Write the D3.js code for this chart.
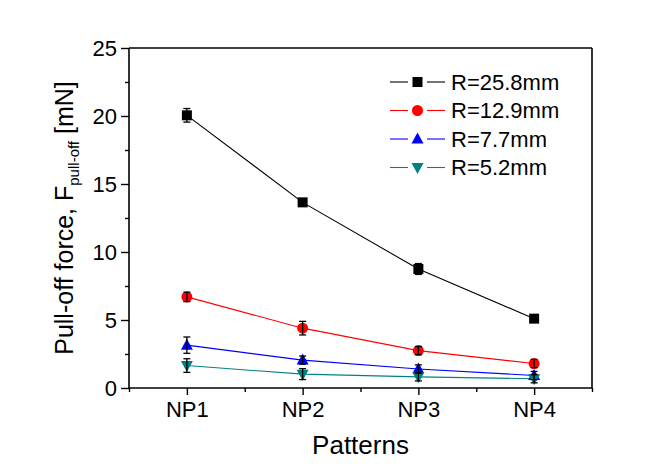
<!DOCTYPE html>
<html><head><meta charset="utf-8">
<script src="https://cdn.jsdelivr.net/npm/d3@7"></script>
<style>body{margin:0;background:#fff}svg{display:block;font-family:"Liberation Sans",Arial,sans-serif}</style>
</head><body>
<svg id="c" width="658" height="474"></svg>
<script>
const categories = ["NP1","NP2","NP3","NP4"];
const seriesNames = ["R=25.8mm","R=12.9mm","R=7.7mm","R=5.2mm"];
const valuesR258 = [20.05, 13.65, 8.75, 5.1];
const errorsR258 = [0.5, 0.25, 0.4, 0.2];
const valuesR129 = [6.7, 4.4, 2.75, 1.8];
const errorsR129 = [0.35, 0.5, 0.3, 0.3];
const valuesR77 = [3.15, 2.05, 1.4, 0.92];
const errorsR77 = [0.6, 0.3, 0.3, 0.3];
const valuesR52 = [1.65, 1.02, 0.82, 0.68];
const errorsR52 = [0.5, 0.4, 0.3, 0.3];
const yTicks = [0,5,10,15,20,25];
const seriesColors = ["#000000","#ff0000","#0000ff","#008080"];
const seriesSymbols = ["square","circle","triangle","triangleDown"];

const series = [
  {name: seriesNames[0], values: valuesR258, errors: errorsR258, color: seriesColors[0], sym: seriesSymbols[0]},
  {name: seriesNames[1], values: valuesR129, errors: errorsR129, color: seriesColors[1], sym: seriesSymbols[1]},
  {name: seriesNames[2], values: valuesR77, errors: errorsR77, color: seriesColors[2], sym: seriesSymbols[2]},
  {name: seriesNames[3], values: valuesR52, errors: errorsR52, color: seriesColors[3], sym: seriesSymbols[3]}
];

const svg = d3.select("#c");
const L = 129, R = 592, T = 48, B = 388;
const x = d3.scaleLinear().domain([0.5, 4.5]).range([L, R]);
const y = d3.scaleLinear().domain([0, 25]).range([B, T]);

function marker(g, sym, cx, cy, color) {
  if (sym === "square") {
    g.append("rect").attr("x", cx-5).attr("y", cy-5).attr("width", 10).attr("height", 10).attr("fill", color);
  } else if (sym === "circle") {
    g.append("circle").attr("cx", cx).attr("cy", cy).attr("r", 5.5).attr("fill", color);
  } else if (sym === "triangle") {
    g.append("path").attr("d", `M${cx},${cy-6.5}L${cx+6},${cy+4.5}L${cx-6},${cy+4.5}Z`).attr("fill", color);
  } else {
    g.append("path").attr("d", `M${cx},${cy+6.5}L${cx+6},${cy-4.5}L${cx-6},${cy-4.5}Z`).attr("fill", color);
  }
}

// axes frame
const frame = svg.append("g").attr("stroke","#000").attr("stroke-width",1.6).attr("fill","none");
frame.append("line").attr("x1",L).attr("x2",R).attr("y1",T).attr("y2",T);
frame.append("line").attr("x1",R).attr("x2",R).attr("y1",T).attr("y2",B);

// y axis
const yAxis = d3.axisLeft(y).tickValues(yTicks).tickSize(8).tickPadding(4).tickFormat(d3.format("d"));
const gy = svg.append("g").attr("transform",`translate(${L},0)`).call(yAxis);
gy.select(".domain").attr("stroke-width",1.6).attr("d",`M0,${B}V${T}`);
gy.selectAll(".tick line").attr("stroke-width",1.4);
gy.selectAll(".tick text").attr("font-size",22).attr("font-family","Liberation Sans, Arial, sans-serif").attr("fill","#000");
const yMinor = d3.axisLeft(y).tickValues([2.5,7.5,12.5,17.5,22.5]).tickSize(4).tickFormat("");
const gym = svg.append("g").attr("transform",`translate(${L},0)`).call(yMinor);
gym.select(".domain").remove();
gym.selectAll(".tick line").attr("stroke-width",1.4);

// x axis
const xAxis = d3.axisBottom(x).tickValues([1,2,3,4]).tickSize(7).tickPadding(6).tickFormat((d,i)=>categories[i]);
const gx = svg.append("g").attr("transform",`translate(0,${B})`).call(xAxis);
gx.select(".domain").attr("stroke-width",1.6).attr("d",`M${L},0H${R}`);
gx.selectAll(".tick line").attr("stroke-width",1.4);
gx.selectAll(".tick text").attr("font-size",22).attr("font-family","Liberation Sans, Arial, sans-serif").attr("fill","#000");
const xMinor = d3.axisBottom(x).tickValues([0.5,1.5,2.5,3.5,4.5]).tickSize(4).tickFormat("");
const gxm = svg.append("g").attr("transform",`translate(0,${B})`).call(xMinor);
gxm.select(".domain").remove();
gxm.selectAll(".tick line").attr("stroke-width",1.4);

// series
const line = d3.line().x((d,i)=>x(i+1)).y(d=>y(d));
series.forEach(s => {
  svg.append("path").datum(s.values).attr("d", line).attr("fill","none").attr("stroke", s.color).attr("stroke-width",1.1);
});
series.forEach(s => {
  const g = svg.append("g");
  s.values.forEach((v,i) => marker(g, s.sym, x(i+1), y(v), s.color));
});
series.forEach(s => {
  const g = svg.append("g").attr("stroke","#000").attr("stroke-width",1.3);
  s.values.forEach((v,i) => {
    const cx = x(i+1), y1 = y(v - s.errors[i]), y2 = y(v + s.errors[i]);
    g.append("line").attr("x1",cx).attr("x2",cx).attr("y1",y1).attr("y2",y2);
    g.append("line").attr("x1",cx-3.5).attr("x2",cx+3.5).attr("y1",y1).attr("y2",y1);
    g.append("line").attr("x1",cx-3.5).attr("x2",cx+3.5).attr("y1",y2).attr("y2",y2);
  });
});

// legend
const leg = svg.append("g");
series.forEach((s,i) => {
  const ly = 82 + i*28.5;
  leg.append("line").attr("x1",390).attr("x2",408).attr("y1",ly).attr("y2",ly).attr("stroke",s.color).attr("stroke-width",1.1);
  leg.append("line").attr("x1",427).attr("x2",445).attr("y1",ly).attr("y2",ly).attr("stroke",s.color).attr("stroke-width",1.1);
  marker(leg, s.sym, 417.5, ly, s.color);
  leg.append("text").attr("x",451).attr("y",ly).attr("dy","0.36em").attr("font-size",22).attr("fill","#000").text(s.name);
});

// axis titles
svg.append("text").attr("x",(L+R)/2).attr("y",454).attr("text-anchor","middle").attr("font-size",26).attr("fill","#000").text("Patterns");
const yt = svg.append("text").attr("transform",`translate(73,${(T+B)/2}) rotate(-90)`).attr("text-anchor","middle").attr("font-size",25).attr("fill","#000");
yt.append("tspan").text("Pull-off force, F");
yt.append("tspan").attr("font-size",15).attr("dy",6).text("pull-off");
yt.append("tspan").attr("dy",-6).text(" [mN]");
</script>
</body></html>
